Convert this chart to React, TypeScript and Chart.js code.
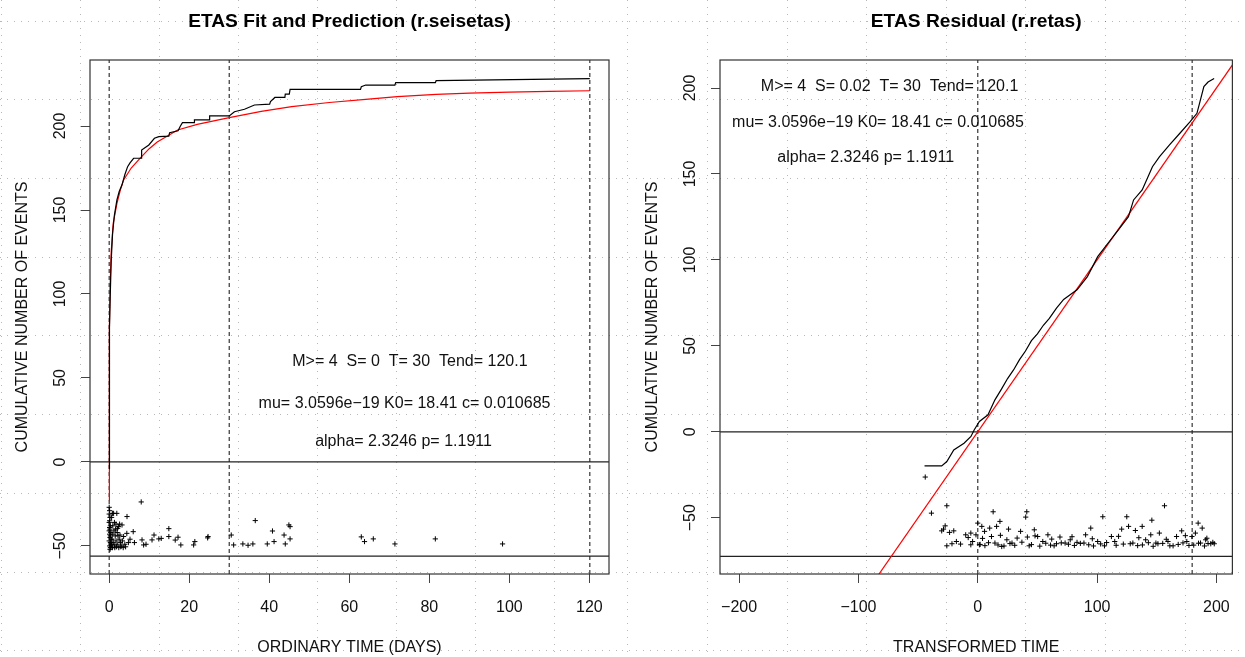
import React, { useEffect, useRef } from "react";
import { Chart, registerables } from "chart.js";

Chart.register(...registerables);

const FONT = '"Liberation Sans", Arial, Helvetica, sans-serif';

// ---------------- Left panel: ETAS fit and prediction ----------------
const leftTitle = "ETAS Fit and Prediction (r.seisetas)";
const leftXLabel = "ORDINARY TIME (DAYS)";
const yLabel = "CUMULATIVE NUMBER OF EVENTS";
const leftXTicks = [0, 20, 40, 60, 80, 100, 120];
const leftYTicks = [-50, 0, 50, 100, 150, 200];
const leftXRange = [-4.8, 124.9];
const leftYRange = [-66.7, 239.3];

// observed cumulative number (black step curve)
const leftObsX = [0, 0, 0.05, 0.15, 0.25, 0.5, 0.84, 1.3, 1.93, 2.5, 3.2, 3.9, 4.6, 5.2, 6.1, 8.0, 8.1, 9.9, 11.3, 12.4, 14.9, 15.1, 17.2, 17.8, 18.3, 21.2, 21.3, 25.0, 25.1, 30.0, 31.3, 33.8, 36.3, 40.1, 40.3, 41.4, 43.9, 44.0, 45.0, 45.2, 62.8, 63.0, 64.1, 71.4, 71.6, 81.5, 81.7, 120.1];
const leftObsY = [-4, 10, 40, 80, 98.4, 120, 136, 147, 156, 161, 165, 171, 175.8, 178, 180.8, 180.8, 185.7, 188.7, 192.7, 193.7, 194, 196, 197.2, 200, 202, 202, 203.6, 203.6, 206, 206, 208.5, 210, 212.5, 213, 214.5, 217, 217, 219, 219, 221.8, 221.8, 223.4, 224.4, 224.4, 225.8, 225.8, 227, 228.2];

// ETAS fitted / predicted cumulative (red curve)
const leftFitX = [0, 0.01, 0.03, 0.06, 0.1, 0.25, 0.5, 1.0, 1.93, 2.8, 3.6, 5.5, 7.8, 10, 12, 17.1, 22, 30, 38, 45.6, 55, 64.1, 72, 81.7, 90, 100, 110, 120.1];
const leftFitY = [-23, 0, 35, 60, 80, 106.5, 125, 142, 154, 162, 167.9, 175, 181, 186.5, 190.5, 197.6, 201, 205, 208.7, 211.5, 214, 215.9, 217.5, 218.8, 219.6, 220.2, 220.6, 221];

// events (time, magnitude-scaled position)
const leftEventX = [0.0, 0.1, 0.0, 0.2, 0.1, 0.0, 0.3, 0.1, 0.2, 0.0, 0.4, 0.1, 0.3, 0.2, 0.5, 0.0, 0.3, 0.6, 0.1, 0.4, 0.2,
  0.8, 1.1, 1.9, 0.6, 0.9, 1.2, 1.5, 0.7, 1.0, 1.3, 1.7, 2.0, 2.3, 2.6, 3.2, 2.2, 2.5, 2.8, 3.0, 3.6, 3.3, 3.9, 4.4, 4.45, 4.8, 5.2, 6.0, 6.3,
  0.3, 0.5, 0.8, 1.4, 1.8, 2.4, 2.9, 3.5, 4.1, 0.9, 1.6, 2.0, 2.7, 1.3, 1.7, 2.1,
  8.0, 8.2, 8.6, 9.2, 10.7, 11.2, 12.4, 13.0, 14.9, 14.9, 17.2, 17.9, 16.5, 21.1, 21.4, 24.6, 24.7,
  30.5, 31.1, 33.4, 34.7, 35.9, 36.5, 39.5, 40.8, 41.2, 43.7, 44.0, 44.9, 45.2, 45.2, 63.0, 63.8, 66.0, 71.4, 81.5, 98.3];
const leftEventY = [-27, -29, -31, -33, -35, -36, -38, -39, -40, -41, -42, -43, -44, -45, -46, -47, -48, -49, -50, -51, -52,
  -30.6, -30.6, -30.6, -33, -38, -41, -44, -46, -48, -50, -47, -49, -38.5, -37, -37.5, -44, -46, -48, -50, -44.4, -47, -49, -42.5, -32.5, -48, -46, -41.5, -48,
  -51, -49, -51, -51, -50.5, -51, -50.5, -51, -50.5, -43, -40, -42, -43.5, -36, -37, -39.5,
  -23.8, -46.4, -49.4, -49, -46.4, -43.5, -45.8, -45.5, -39.7, -44.4, -44.8, -49.4, -46.5, -49.4, -47.4, -45.2, -44.4,
  -43.5, -49.4, -48.8, -49.6, -48.8, -34.9, -48.8, -41.1, -47.4, -43.5, -48.8, -37.5, -38.5, -45.8, -44.6, -47.4, -45.8, -48.8, -45.8, -48.8];

const leftVLines = [0, 30, 120.1];
const leftHLines = [0, -56];
const leftNotes = ["M>= 4  S= 0  T= 30  Tend= 120.1", "mu= 3.0596e\u221219 K0= 18.41 c= 0.010685", "alpha= 2.3246 p= 1.1911"];

// ---------------- Right panel: ETAS residual ----------------
const rightTitle = "ETAS Residual (r.retas)";
const rightXLabel = "TRANSFORMED TIME";
const rightXTicks = [-200, -100, 0, 100, 200];
const rightYTicks = [-50, 0, 50, 100, 150, 200];
const rightXRange = [-216, 213.4];
const rightYRange = [-82.7, 216.3];

const rightObsX = [-44.6, -30.2, -25.9, -20.1, -11.5, -5.7, -2.9, 1.4, 8.6, 14.4, 20, 25, 30, 35, 40, 45, 50, 55, 60, 66, 72, 78, 83.2, 91.9, 100.5, 109.1, 117.7, 126.3, 130.6, 137.8, 146.4, 152.2, 160.7, 169.4, 178, 183.7, 189.5, 193, 198.1];
const rightObsY = [-19.8, -19.8, -17.3, -10.5, -6.6, -2.7, 1.2, 6.0, 9.9, 18.6, 25, 31, 36, 42, 47, 53, 57, 62, 66, 72, 77, 80, 82.6, 90.3, 101.9, 109.7, 117.4, 125.2, 134.9, 140.7, 154.2, 160, 166.9, 173.7, 180.4, 185.3, 200.8, 203.5, 205.6];

const rightFitX = [-250, 250];
const rightFitY = [-250, 250];

const rightEventX = [-44.0, -38.8, -25.9, -27.3, -28.7, -30.2, -23.6, -20.1, -25.9, -21.6, -17.9, -14.4, -10.1, -5.8, -4.3, -5.8, -1.5, 0, 1.4, 3.4, 5.7, 10.0, 12.9, 11.5, 15.8, 18.6, 14.4, 20.1, 24.4, 25.8, 28.7, 35.9, 40.2, 41.1, 41.6, 43.1, 47.4, 50.2, 54.5, 58.8, 66.0, 68.9, 73.2, 77.5, 83.2, 89.0, 90.4, 94.7, 100.5, 104.8, 106.2, 112.0, 114.8, 120.6, 124.9, 126.4, 127.8, 132.1, 137.8, 140.7, 145.0, 145.9, 149.3, 152.2, 156.5, 159.4, 163.7, 166.6, 170.9, 175.2, 179.5, 182.4, 184.7, 188.1, 186.7, 191.0, 195.3, 198.2,
  2, 6, 9, 17, 22, 27, 31, 37, 45, 52, 57, 61, 64, 70, 76, 81, 86, 93, 97, 103, 108, 116, 122, 130, 134, 138, 143, 147, 151, 155, 161, 168, 172, 177, 181, 185, 190, 193, 197,
  -8, 4, 19, 33, 48, 62, 79, 96, 118, 135, 158, 174, 192];
const rightEventY = [-26.3, -47.3, -43.0, -54.7, -56.6, -57.6, -58.5, -57.6, -66.3, -65.1, -63.8, -65.3, -59.9, -58.9, -63.8, -65.7, -59.9, -53.1, -65.7, -55.0, -57.9, -56.0, -46.5, -60.9, -55.0, -52.1, -64.7, -66.7, -62.8, -56.6, -64.7, -57.9, -49.6, -46.5, -61.2, -66.3, -57.0, -60.9, -63.8, -59.9, -65.1, -61.2, -64.7, -62.8, -64.3, -64.7, -59.9, -56.0, -63.8, -49.4, -66.3, -60.9, -63.8, -56.6, -49.4, -55.0, -65.1, -57.4, -55.0, -62.8, -59.9, -51.4, -64.7, -58.9, -43.0, -63.8, -66.3, -60.9, -57.6, -63.8, -60.9, -58.9, -53.1, -56.0, -64.7, -62.8, -65.1, -65.1,
  -65.5, -66.2, -64.5, -65.8, -66.4, -65.0, -66.0, -64.2, -65.6, -66.5, -64.8, -65.9, -66.3, -64.6, -65.4, -66.1, -64.9, -65.7, -66.4, -65.2, -64.4, -66.0, -65.3, -64.7, -66.2, -65.8, -64.5, -66.6, -65.1, -64.9, -66.3, -65.5, -64.6, -66.1, -65.9, -64.8, -66.4, -65.0, -64.3,
  -61.5, -62.0, -60.2, -61.8, -60.5, -62.4, -61.0, -62.2, -60.8, -61.6, -62.5, -60.4, -61.9];

const rightVLines = [0, 179.7];
const rightHLines = [0, -72.4];
const rightNotes = ["M>= 4  S= 0.02  T= 30  Tend= 120.1", "mu= 3.0596e\u221219 K0= 18.41 c= 0.010685", "alpha= 2.3246 p= 1.1911"];

// ---------------- panel configs ----------------
type Panel = {
  title: string; xLabel: string;
  xTicks: number[]; yTicks: number[];
  xRange: number[]; yRange: number[];
  obsX: number[]; obsY: number[]; fitX: number[]; fitY: number[];
  evX: number[]; evY: number[];
  vLines: number[]; hLines: number[];
  notes: string[];
  noteAnchors: number[][];
  width: number; yAxisWidth: number; padRight: number;
  bgX0: number; bgDX: number; yTitleX: number;
};

const panels: Panel[] = [
  {
    title: leftTitle, xLabel: leftXLabel, xTicks: leftXTicks, yTicks: leftYTicks,
    xRange: leftXRange, yRange: leftYRange, obsX: leftObsX, obsY: leftObsY,
    fitX: leftFitX, fitY: leftFitY, evX: leftEventX, evY: leftEventY,
    vLines: leftVLines, hLines: leftHLines, notes: leftNotes,
    noteAnchors: [[75.15, 57.1], [73.8, 32.0], [73.55, 9.5]],
    width: 622, yAxisWidth: 90, padRight: 13, bgX0: 1.1, bgDX: 79.0, yTitleX: 21,
  },
  {
    title: rightTitle, xLabel: rightXLabel, xTicks: rightXTicks, yTicks: rightYTicks,
    xRange: rightXRange, yRange: rightYRange, obsX: rightObsX, obsY: rightObsY,
    fitX: rightFitX, fitY: rightFitY, evX: rightEventX, evY: rightEventY,
    vLines: rightVLines, hLines: rightHLines, notes: rightNotes,
    noteAnchors: [[-73.9, 198.0], [-83.6, 177.2], [-93.9, 157.2]],
    width: 623, yAxisWidth: 98, padRight: 8, bgX0: 5.3, bgDX: 79.6, yTitleX: 29,
  },
];

const HEIGHT = 657;
const fmt = (v: number) => (v < 0 ? "\u2212" + Math.abs(v) : String(v));
const pts = (xs: number[], ys: number[]) => xs.map((x, i) => ({ x, y: ys[i] }));

function makeConfig(p: Panel): any {
  const datasets: any[] = [];
  datasets.push({ data: pts(p.obsX, p.obsY), showLine: true, borderColor: "#000", borderWidth: 1.2, pointRadius: 0, order: 1 });
  datasets.push({ data: pts(p.fitX, p.fitY), showLine: true, borderColor: "#ff0000", borderWidth: 1.2, pointRadius: 0, order: 2 });
  datasets.push({ data: pts(p.evX, p.evY), showLine: false, pointStyle: "cross", pointRadius: 2.6, borderColor: "#000", borderWidth: 1, backgroundColor: "#000", order: 3 });
  p.hLines.forEach((v) =>
    datasets.push({ data: [{ x: p.xRange[0], y: v }, { x: p.xRange[1], y: v }], showLine: true, borderColor: "#222", borderWidth: 1.2, pointRadius: 0, order: 4 })
  );
  p.vLines.forEach((v) =>
    datasets.push({ data: [{ x: v, y: p.yRange[0] }, { x: v, y: p.yRange[1] }], showLine: true, borderColor: "#444", borderWidth: 1.3, borderDash: [4, 3], pointRadius: 0, order: 5 })
  );

  const extras = {
    id: "extras",
    beforeDraw(chart: any) {
      const { ctx, width, height } = chart;
      ctx.save();
      ctx.fillStyle = "#fff";
      ctx.fillRect(0, 0, width, height);
      ctx.strokeStyle = "rgba(0,0,0,0.28)";
      ctx.lineWidth = 1;
      ctx.setLineDash([1, 6]);
      for (let x = p.bgX0; x < width; x += p.bgDX) {
        const px = Math.round(x) + 0.5;
        ctx.beginPath(); ctx.moveTo(px, 0); ctx.lineTo(px, height); ctx.stroke();
      }
      for (let y = 20.6; y < height; y += 78.7) {
        const py = Math.round(y) + 0.5;
        ctx.beginPath(); ctx.moveTo(0, py); ctx.lineTo(width, py); ctx.stroke();
      }
      ctx.restore();
    },
    afterDraw(chart: any) {
      const { ctx, chartArea: a, scales } = chart;
      const xs = scales.x, ys = scales.y;
      ctx.save();
      // box
      ctx.strokeStyle = "#333";
      ctx.lineWidth = 1.2;
      ctx.setLineDash([]);
      ctx.strokeRect(a.left, a.top, a.right - a.left, a.bottom - a.top);
      ctx.fillStyle = "#111";
      // y tick labels, rotated
      ctx.font = `16px ${FONT}`;
      ctx.textAlign = "center";
      ctx.textBaseline = "alphabetic";
      p.yTicks.forEach((v) => {
        const py = ys.getPixelForValue(v);
        ctx.save();
        ctx.translate(a.left - 31 + 5.7, py);
        ctx.rotate(-Math.PI / 2);
        ctx.fillText(fmt(v), 0, 0);
        ctx.restore();
      });
      // y axis title
      ctx.save();
      ctx.translate(p.yTitleX + 5.7, (a.top + a.bottom) / 2);
      ctx.rotate(-Math.PI / 2);
      ctx.fillText(yLabel, 0, 0);
      ctx.restore();
      // x axis title
      ctx.fillText(p.xLabel, (a.left + a.right) / 2, 652);
      // notes
      p.notes.forEach((t, i) => {
        const [nx, ny] = p.noteAnchors[i];
        ctx.fillText(t, xs.getPixelForValue(nx), ys.getPixelForValue(ny));
      });
      // main title
      ctx.font = `bold 19.2px ${FONT}`;
      ctx.fillStyle = "#000";
      ctx.fillText(p.title, (a.left + a.right) / 2, 27);
      ctx.restore();
    },
  };

  const axisCommon = {
    type: "linear",
    border: { display: false },
    grid: { drawOnChartArea: false, drawTicks: true, tickLength: 9, color: "#444", lineWidth: 1 },
  };

  return {
    type: "scatter",
    data: { datasets },
    plugins: [extras],
    options: {
      animation: false,
      responsive: false,
      devicePixelRatio: 1,
      events: [],
      layout: { padding: { top: 60, right: p.padRight, left: 0, bottom: 0 } },
      plugins: { legend: { display: false }, tooltip: { enabled: false }, title: { display: false } },
      elements: { line: { tension: 0 } },
      scales: {
        x: {
          ...axisCommon,
          position: "bottom",
          min: p.xRange[0],
          max: p.xRange[1],
          afterBuildTicks: (s: any) => { s.ticks = p.xTicks.map((v) => ({ value: v })); },
          afterFit: (s: any) => { s.height = HEIGHT - 574; },
          ticks: {
            font: { family: FONT, size: 16 },
            color: "#111",
            padding: 15,
            maxRotation: 0,
            minRotation: 0,
            autoSkip: false,
            callback: (v: any) => fmt(Number(v)),
          },
        },
        y: {
          ...axisCommon,
          position: "left",
          min: p.yRange[0],
          max: p.yRange[1],
          afterBuildTicks: (s: any) => { s.ticks = p.yTicks.map((v) => ({ value: v })); },
          afterFit: (s: any) => { s.width = p.yAxisWidth; },
          ticks: { display: false },
        },
      },
    },
  };
}

function PanelChart({ panel, left }: { panel: Panel; left: number }) {
  const ref = useRef<HTMLCanvasElement | null>(null);
  useEffect(() => {
    if (!ref.current) return;
    const chart = new Chart(ref.current, makeConfig(panel));
    return () => chart.destroy();
  }, [panel]);
  return (
    <canvas
      ref={ref}
      width={panel.width}
      height={HEIGHT}
      style={{ position: "absolute", left, top: 0, width: panel.width, height: HEIGHT, display: "block" }}
    />
  );
}

export default function App() {
  return (
    <div style={{ position: "fixed", left: 0, top: 0, width: 1245, height: HEIGHT, background: "#fff", overflow: "hidden" }}>
      <PanelChart panel={panels[0]} left={0} />
      <PanelChart panel={panels[1]} left={622} />
    </div>
  );
}
